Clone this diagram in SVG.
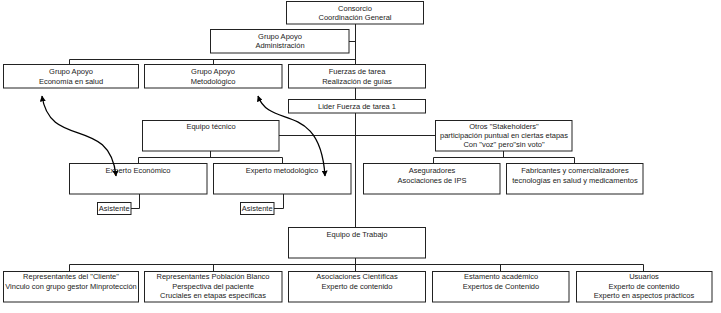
<svg xmlns="http://www.w3.org/2000/svg" width="721" height="313" viewBox="0 0 721 313">
<style>
.box{fill:#fff;stroke:#222;stroke-width:1}
.t{font-family:"Liberation Sans",Arial,sans-serif;font-size:7.5px;fill:#222;text-anchor:middle}
.c{fill:none;stroke:#222;stroke-width:1}
.a{fill:none;stroke:#000;stroke-width:1.3}
</style>
<defs>
<marker id="ah" viewBox="0 0 10 10" refX="9" refY="5" markerWidth="6" markerHeight="6" markerUnits="userSpaceOnUse" orient="auto-start-reverse">
<path d="M0,0 L10,5 L0,10 z" fill="#000"/>
</marker>
</defs>
<rect width="721" height="313" fill="#fff"/>
<g id="connectors">
<path class="c" d="M355.5,24 V64 M349,41.5 H355.5 M69.5,64 V59.5 H355.5 M213.5,59.5 V64 M355.5,88 V99 M355.5,113 V227"/>
<path class="c" d="M279,135.5 H435"/>
<path class="c" d="M210.5,151 V157.5 M138.5,163 V157.5 H282.5 V163"/>
<path class="c" d="M139.5,194 V208.5 H131 M283.5,194 V208.5 H274"/>
<path class="c" d="M503.5,151 V157.5 M433.5,163 V157.5 H574.5 V163"/>
<path class="c" d="M355.5,258 V271 M69.5,271 V264.5 H643.5 V271 M213.5,264.5 V271 M500.5,264.5 V271"/>
</g>
<g id="consorcio"><rect class="box" x="286.5" y="1.5" width="137" height="22.5"/><text class="t" x="355" y="10.5">Consorcio</text><text class="t" x="355" y="19.5">Coordinación General</text></g>
<g id="admin"><rect class="box" x="210.5" y="29.5" width="138.5" height="23.5"/><text class="t" x="280" y="38.5">Grupo Apoyo</text><text class="t" x="280" y="48">Administración</text></g>
<g id="economia"><rect class="box" x="3.5" y="64.5" width="135" height="23.5"/><text class="t" x="71" y="74">Grupo Apoyo</text><text class="t" x="71" y="83.5">Economía en salud</text></g>
<g id="metodologico"><rect class="box" x="144.5" y="64.5" width="137.5" height="23.5"/><text class="t" x="213" y="74">Grupo Apoyo</text><text class="t" x="213" y="83.5">Metodológico</text></g>
<g id="fuerzas"><rect class="box" x="288.5" y="64.5" width="137" height="23.5"/><text class="t" x="357" y="74">Fuerzas de tarea</text><text class="t" x="357" y="83.5">Realización de guías</text></g>
<g id="lider"><rect class="box" x="288.5" y="99.5" width="137" height="13.5"/><text class="t" x="357" y="109">Lider Fuerza de tarea 1</text></g>
<g id="equipo-tecnico"><rect class="box" x="142.5" y="120.5" width="136.5" height="30.5"/><text class="t" x="211" y="128.5">Equipo técnico</text></g>
<g id="otros"><rect class="box" x="435.5" y="120.5" width="136.5" height="30.5"/><text class="t" x="504" y="128.5">Otros "Stakeholders"</text><text class="t" x="504" y="137.5">participación puntual en ciertas etapas</text><text class="t" x="504" y="146.5">Con "voz" pero"sin voto"</text></g>
<g id="experto-economico"><rect class="box" x="69.5" y="163.5" width="137.5" height="30.5"/><text class="t" x="138" y="172.5">Experto Económico</text></g>
<g id="experto-metodologico"><rect class="box" x="213.5" y="163.5" width="137.5" height="30.5"/><text class="t" x="282" y="172.5">Experto metodológico</text></g>
<g id="asistente1"><rect class="box" x="97.5" y="202.5" width="33.5" height="12"/><text class="t" x="114.2" y="211.3">Asistente</text></g>
<g id="asistente2"><rect class="box" x="240.5" y="202.5" width="33.5" height="12"/><text class="t" x="257.2" y="211.3">Asistente</text></g>
<g id="aseguradores"><rect class="box" x="363.5" y="163.5" width="136.5" height="30.5"/><text class="t" x="432" y="173">Aseguradores</text><text class="t" x="432" y="182.5">Asociaciones de IPS</text></g>
<g id="fabricantes"><rect class="box" x="506.5" y="163.5" width="136.5" height="30.5"/><text class="t" x="575" y="173">Fabricantes y comercializadores</text><text class="t" x="575" y="182.5">tecnologías en salud y medicamentos</text></g>
<g id="equipo-trabajo"><rect class="box" x="288.5" y="227.5" width="137" height="30.5"/><text class="t" x="357" y="236.5">Equipo de Trabajo</text></g>
<g id="cliente"><rect class="box" x="3.5" y="271.5" width="135" height="30.5"/><text class="t" x="71" y="279">Representantes del "Cliente"</text><text class="t" x="71" y="288.5">Vinculo con grupo gestor Minprotección</text></g>
<g id="poblacion"><rect class="box" x="144.5" y="271.5" width="137.5" height="30.5"/><text class="t" x="213" y="279">Representantes Población Blanco</text><text class="t" x="213" y="288.5">Perspectiva del paciente</text><text class="t" x="213" y="298">Cruciales en etapas específicas</text></g>
<g id="asociaciones"><rect class="box" x="288.5" y="271.5" width="137" height="30.5"/><text class="t" x="357" y="279">Asociaciones Científicas</text><text class="t" x="357" y="288.5">Experto de contenido</text></g>
<g id="estamento"><rect class="box" x="432.5" y="271.5" width="136.5" height="30.5"/><text class="t" x="501" y="279">Estamento académico</text><text class="t" x="501" y="288.5">Expertos de Contenido</text></g>
<g id="usuarios"><rect class="box" x="576.5" y="271.5" width="135.5" height="30.5"/><text class="t" x="644" y="279">Usuarios</text><text class="t" x="644" y="288.5">Experto de contenido</text><text class="t" x="644" y="298">Experto en aspectos prácticos</text></g>
<g id="arrows">
<path class="a" d="M42,96 C50,150 110,115 116,176" marker-start="url(#ah)" marker-end="url(#ah)"/>
<path class="a" d="M258,96 C270,130 320,100 325,176" marker-start="url(#ah)" marker-end="url(#ah)"/>
</g>
</svg>
